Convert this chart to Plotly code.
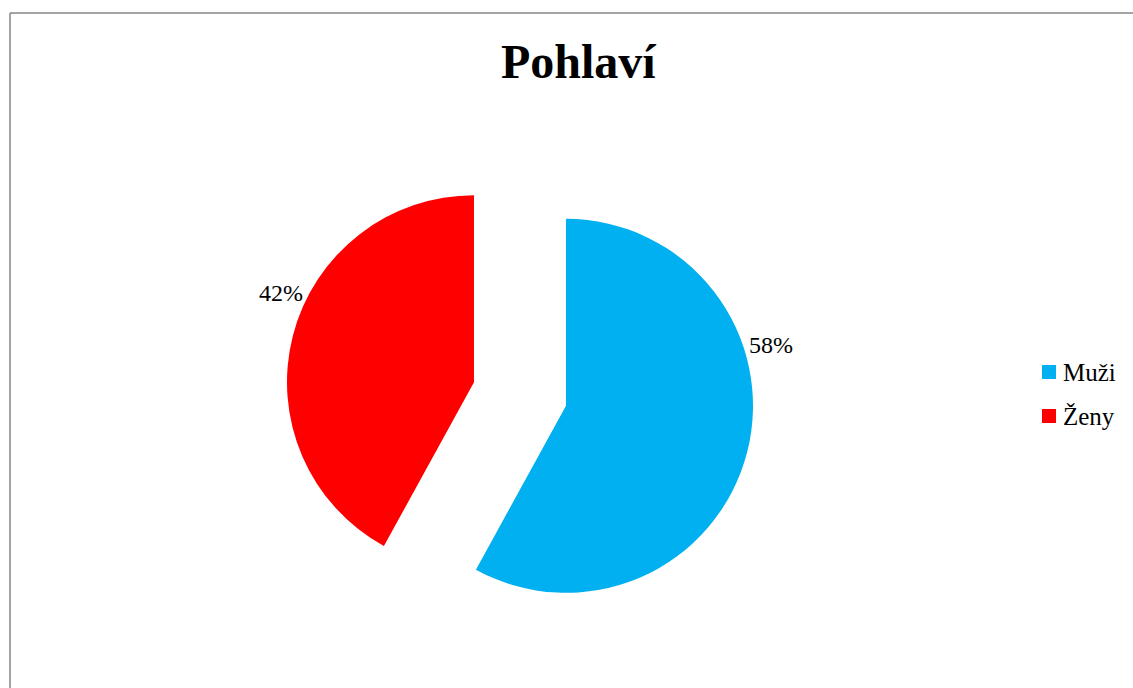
import plotly.graph_objects as go

# Gender split of respondents
labels = ["Muži", "Ženy"]
values = [58, 42]
colors = ["#00B0F0", "#FF0000"]

W, H = 1133, 688
FONT = "Liberation Serif, Times New Roman, serif"

total = sum(values)
pct_text = [f"{v / total * 100:.0f}%" for v in values]

fig = go.Figure(
    go.Pie(
        labels=labels,
        values=values,
        sort=False,
        direction="clockwise",
        rotation=0,
        pull=[0.254, 0.254],
        marker=dict(colors=colors, line=dict(width=0)),
        textinfo="none",
        hoverinfo="label+percent",
        showlegend=False,
        domain=dict(x=[285.5 / W, 754.5 / W], y=[59.5 / H, 528.5 / H]),
    )
)


def px(x, y):
    """Pixel position (from top-left) to paper coordinates."""
    return x / W, 1 - y / H


annotations = []
shapes = []

# Title
tx, ty = px(578, 61)
annotations.append(dict(
    x=tx, y=ty, xref="paper", yref="paper", text="<b>Pohlaví</b>",
    showarrow=False, xanchor="center", yanchor="middle",
    font=dict(family=FONT, size=48, color="black"),
))

# Percentage labels outside the slices
label_pos = [(770.5, 345), (280.5, 293)]
for (lx, ly), t in zip(label_pos, pct_text):
    ax, ay = px(lx, ly)
    annotations.append(dict(
        x=ax, y=ay, xref="paper", yref="paper", text=t, showarrow=False,
        xanchor="center", yanchor="middle",
        font=dict(family=FONT, size=24, color="black"),
    ))

# Legend: colored squares with labels
for i, (lab, col) in enumerate(zip(labels, colors)):
    cy = 372 + i * 44
    x0, y0 = px(1042, cy - 7)
    x1, y1 = px(1056, cy + 7)
    shapes.append(dict(type="rect", xref="paper", yref="paper",
                       x0=x0, x1=x1, y0=y1, y1=y0,
                       fillcolor=col, line=dict(width=0)))
    lx, ly = px(1061, cy)
    annotations.append(dict(
        x=lx, y=ly, xref="paper", yref="paper", text=lab, showarrow=False,
        xanchor="left", yanchor="middle",
        font=dict(family=FONT, size=25, color="black"),
    ))

# Chart frame (top and left edges visible)
bx0, by0 = px(10, 13)
shapes.append(dict(type="line", xref="paper", yref="paper",
                   x0=bx0, y0=by0, x1=1, y1=by0,
                   line=dict(color="#868686", width=1.5)))
shapes.append(dict(type="line", xref="paper", yref="paper",
                   x0=bx0, y0=by0, x1=bx0, y1=0,
                   line=dict(color="#868686", width=1.5)))

fig.update_layout(
    width=W, height=H,
    margin=dict(l=0, r=0, t=0, b=0),
    paper_bgcolor="white",
    plot_bgcolor="white",
    annotations=annotations,
    shapes=shapes,
    showlegend=False,
)

fig.write_html("out.html")
